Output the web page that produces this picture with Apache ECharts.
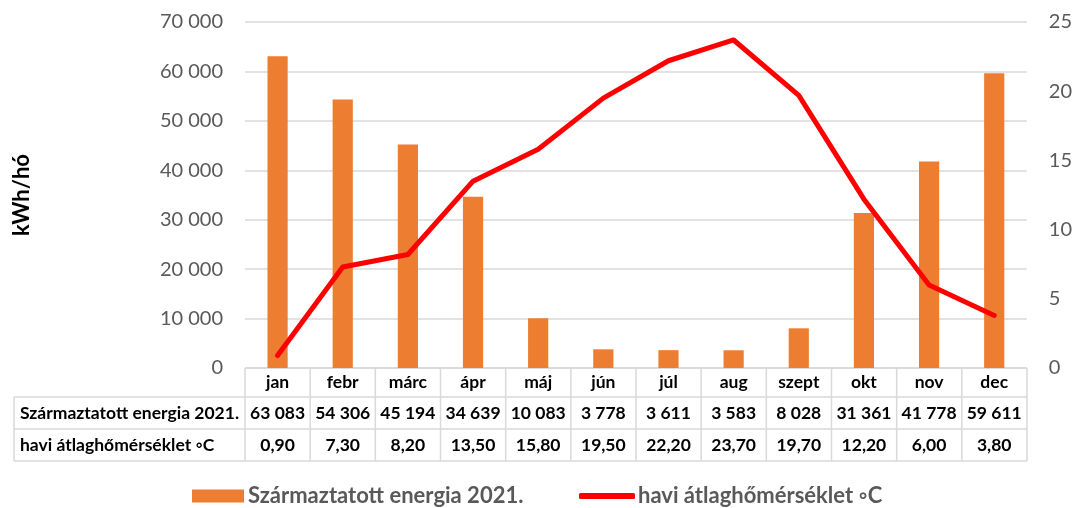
<!DOCTYPE html>
<html>
<head>
<meta charset="utf-8">
<script src="https://cdn.jsdelivr.net/npm/echarts@6/dist/echarts.min.js"></script>
<style>
html,body{margin:0;padding:0;background:#fff;}
#main{width:1075px;height:508px;}
</style>
</head>
<body>
<div id="main"></div>
<script>
const categories = ['jan','febr','márc','ápr','máj','jún','júl','aug','szept','okt','nov','dec'];
const energy = [63083, 54306, 45194, 34639, 10083, 3778, 3611, 3583, 8028, 31361, 41778, 59611];
const temperature = [0.90, 7.30, 8.20, 13.50, 15.80, 19.50, 22.20, 23.70, 19.70, 12.20, 6.00, 3.80];
const energyName = 'Származtatott energia 2021.';
const tempName = 'havi átlaghőmérséklet ◦C';
const leftTicks = [0, 10000, 20000, 30000, 40000, 50000, 60000, 70000];
const rightTicks = [0, 5, 10, 15, 20, 25];

const FONT = 'Lato, "Open Sans", sans-serif';
const fmtThousands = v => String(v).replace(/\B(?=(\d{3})+(?!\d))/g, ' ');
const fmtTemp = v => v.toFixed(2).replace('.', ',');

const chart = echarts.init(document.getElementById('main'), null, {renderer: 'canvas'});

const gridL = 245, gridR = 48, gridT = 22, gridB = 140;

const option = {
  animation: false,
  textStyle: {fontFamily: FONT},
  grid: {left: gridL, right: gridR, top: gridT, bottom: gridB, containLabel: false},
  legend: [
    {
      data: [energyName], left: 187, top: 480, itemWidth: 52, itemHeight: 13, icon: 'rect',
      textStyle: {fontFamily: FONT, fontSize: 22, fontWeight: 'bold', color: '#595959', padding: [0, 0, 0, -1]}
    },
    {
      data: [tempName], left: 574, top: 480, itemWidth: 56, itemHeight: 6, icon: 'roundRect',
      textStyle: {fontFamily: FONT, fontSize: 22, fontWeight: 'bold', color: '#595959', padding: [0, 0, 0, -2]}
    }
  ],
  xAxis: {
    type: 'category', data: categories,
    axisLine: {show: false}, axisTick: {show: false}, axisLabel: {show: false}
  },
  yAxis: [
    {
      type: 'value', min: leftTicks[0], max: leftTicks[leftTicks.length-1], interval: leftTicks[1]-leftTicks[0],
      name: 'kWh/hó', nameLocation: 'middle', nameRotate: 90, nameGap: 212,
      nameTextStyle: {fontFamily: FONT, fontSize: 22, fontWeight: 'bold', color: '#000'},
      axisLine: {show: false}, axisTick: {show: false},
      axisLabel: {formatter: v => fmtThousands(v), fontSize: 20, color: '#595959', margin: 22, fontFamily: FONT},
      splitLine: {lineStyle: {color: '#d9d9d9', width: 1.5}}
    },
    {
      type: 'value', min: rightTicks[0], max: rightTicks[rightTicks.length-1], interval: rightTicks[1]-rightTicks[0],
      axisLine: {show: false}, axisTick: {show: false},
      axisLabel: {fontSize: 20, color: '#595959', margin: 22, fontFamily: FONT},
      splitLine: {show: false}
    }
  ],
  series: [
    {
      name: energyName, type: 'bar', data: energy, yAxisIndex: 0,
      barWidth: '31%', itemStyle: {color: '#ed7d31'}
    },
    {
      name: tempName, type: 'line', data: temperature, yAxisIndex: 1,
      showSymbol: false, symbol: 'none', smooth: false,
      lineStyle: {color: '#ff0000', width: 5, cap: 'round', join: 'round'},
      itemStyle: {color: '#ff0000'}
    }
  ]
};
chart.setOption(option);

// Data table below the plot, aligned to category bands
function buildTable() {
  const W = chart.getWidth();
  const x0 = gridL, x1 = W - gridR;
  const colW = (x1 - x0) / categories.length;
  const labelX0 = 14;
  const rowY = [368, 397, 429, 461];
  const lineStyle = {stroke: '#d9d9d9', lineWidth: 1.5};
  const els = [];
  els.push({type: 'line', shape: {x1: x0, y1: rowY[0], x2: x1, y2: rowY[0]}, style: lineStyle});
  for (let i = 1; i < rowY.length; i++) {
    els.push({type: 'line', shape: {x1: labelX0, y1: rowY[i], x2: x1, y2: rowY[i]}, style: lineStyle});
  }
  els.push({type: 'line', shape: {x1: labelX0, y1: rowY[1], x2: labelX0, y2: rowY[3]}, style: lineStyle});
  for (let c = 0; c <= categories.length; c++) {
    const x = x0 + c * colW;
    els.push({type: 'line', shape: {x1: x, y1: rowY[0], x2: x, y2: rowY[3]}, style: lineStyle});
  }
  const txt = (x, y, s, align) => ({
    type: 'text', x: x, y: y,
    style: {text: s, fill: '#000', font: 'bold 17.5px ' + FONT, align: align, verticalAlign: 'middle'}
  });
  const rows = [
    categories,
    energy.map(fmtThousands),
    temperature.map(fmtTemp)
  ];
  const rowLabels = [null, energyName, tempName];
  for (let r = 0; r < 3; r++) {
    const yc = (rowY[r] + rowY[r+1]) / 2;
    if (rowLabels[r]) els.push(txt(labelX0 + 6, yc, rowLabels[r], 'left'));
    for (let c = 0; c < categories.length; c++) {
      const xc = chart.convertToPixel({xAxisIndex: 0}, categories[c]);
      els.push(txt(xc, yc, rows[r][c], 'center'));
    }
  }
  chart.setOption({graphic: {elements: els}});
}
buildTable();
</script>
</body>
</html>
